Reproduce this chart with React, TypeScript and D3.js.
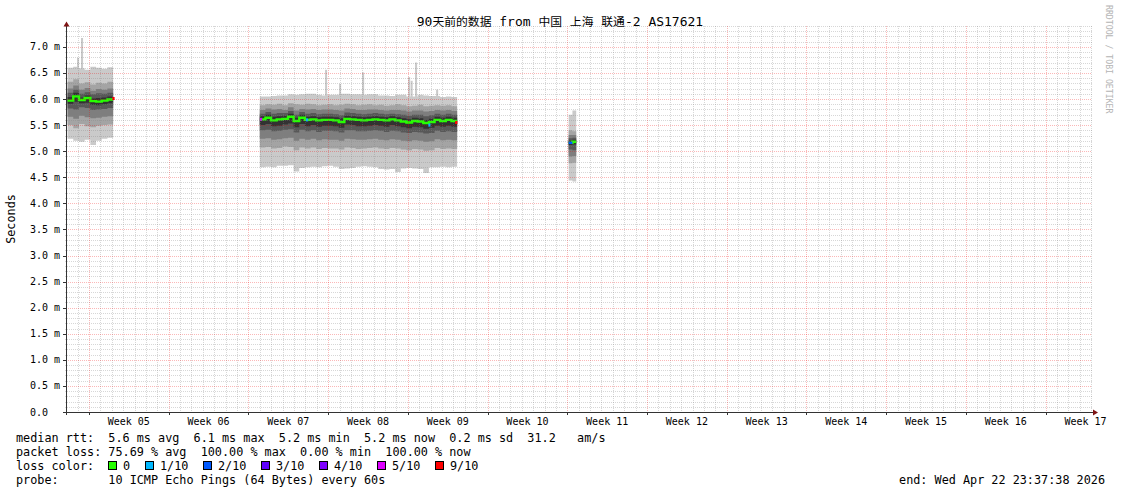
import React from "react";
import * as d3 from "d3";

// ---------- text ----------
const TITLE = "90天前的数据 from 中国 上海 联通-2 AS17621";
const Y_TITLE = "Seconds";
const WATERMARK = "RRDTOOL / TOBI OETIKER";
const legendRows = [
  "median rtt:  5.6 ms avg  6.1 ms max  5.2 ms min  5.2 ms now  0.2 ms sd  31.2   am/s",
  "packet loss: 75.69 % avg  100.00 % max  0.00 % min  100.00 % now",
];
const lossRowLabel = "loss color:";
const probeRow = "probe:       10 ICMP Echo Pings (64 Bytes) every 60s";
const endRow = "end: Wed Apr 22 23:37:38 2026";

// ---------- axes ----------
const RANGE_DAYS = 90;
const Y_MAX = 7.4;
const yTickValues = [0, 0.5, 1, 1.5, 2, 2.5, 3, 3.5, 4, 4.5, 5, 5.5, 6, 6.5, 7];
const yTickLabels = ["0.0", "0.5 m", "1.0 m", "1.5 m", "2.0 m", "2.5 m", "3.0 m", "3.5 m", "4.0 m", "4.5 m", "5.0 m", "5.5 m", "6.0 m", "6.5 m", "7.0 m"];
const firstWeekDay = 1.93; // days after graph start of first week boundary
const weekLabels = ["Week 05", "Week 06", "Week 07", "Week 08", "Week 09", "Week 10", "Week 11", "Week 12", "Week 13", "Week 14", "Week 15", "Week 16", "Week 17"];

// ---------- loss colours ----------
const lossLegend = [
  { label: "0", loss: 0 },
  { label: "1/10", loss: 1 },
  { label: "2/10", loss: 2 },
  { label: "3/10", loss: 3 },
  { label: "4/10", loss: 4 },
  { label: "5/10", loss: 5 },
  { label: "9/10", loss: 9 },
];
const lossColors: Record<number, string> = {
  0: "#26ff00", 1: "#00b8ff", 2: "#0059ff", 3: "#5e00ff", 4: "#7e00ff", 5: "#dd00ff", 9: "#ff0000",
};
const smokeShades = ["#cacaca", "#a4a4a4", "#7e7e7e", "#585858", "#323232"];

// ---------- segment A (days, ms) ----------
const segAStart = 0.05;
const segAStep = 0.5;
const medA = [5.97, 6.05, 5.98, 6.02, 5.96, 5.95, 5.97, 5.99];
const lossA = [0, 0, 0, 0, 0, 0, 0, 0];
const hi1A = [6.60, 6.62, 6.59, 6.56, 6.62, 6.60, 6.58, 6.61];
const hi2A = [6.33, 6.38, 6.30, 6.32, 6.28, 6.31, 6.30, 6.33];
const hi3A = [6.20, 6.26, 6.18, 6.21, 6.16, 6.19, 6.18, 6.20];
const hi4A = [6.12, 6.18, 6.10, 6.13, 6.09, 6.11, 6.10, 6.12];
const hi5A = [6.04, 6.12, 6.03, 6.07, 6.01, 6.02, 6.03, 6.05];
const lo5A = [5.91, 5.95, 5.92, 5.93, 5.89, 5.88, 5.90, 5.92];
const lo4A = [5.82, 5.80, 5.84, 5.83, 5.79, 5.80, 5.81, 5.83];
const lo3A = [5.66, 5.62, 5.68, 5.65, 5.63, 5.64, 5.66, 5.67];
const lo2A = [5.50, 5.44, 5.52, 5.48, 5.46, 5.49, 5.50, 5.51];
const lo1A = [5.24, 5.20, 5.18, 5.22, 5.12, 5.20, 5.24, 5.26];

// ---------- segment B ----------
const segBStart = 16.93;
const segBStep = 0.495;
const medB = [5.61, 5.64, 5.59, 5.61, 5.62, 5.66, 5.58, 5.64, 5.60, 5.61, 5.59, 5.60, 5.60, 5.59, 5.56, 5.62, 5.61, 5.60, 5.59, 5.60, 5.61, 5.60, 5.59, 5.61, 5.59, 5.57, 5.55, 5.58, 5.57, 5.54, 5.56, 5.60, 5.58, 5.60, 5.58];
const lossB = medB.map(() => 0);
const hi1B = [6.05, 6.05, 6.06, 6.07, 6.07, 6.09, 6.08, 6.09, 6.10, 6.10, 6.08, 6.07, 6.08, 6.08, 6.10, 6.10, 6.09, 6.09, 6.08, 6.09, 6.09, 6.07, 6.07, 6.06, 6.08, 6.08, 6.05, 6.05, 6.08, 6.07, 6.06, 6.06, 6.04, 6.05, 6.04];
const hi2B = [5.88, 5.90, 5.89, 5.91, 5.88, 5.92, 5.90, 5.89, 5.91, 5.90, 5.88, 5.89, 5.90, 5.88, 5.89, 5.91, 5.90, 5.88, 5.89, 5.90, 5.88, 5.89, 5.87, 5.88, 5.90, 5.88, 5.86, 5.87, 5.89, 5.86, 5.87, 5.88, 5.87, 5.88, 5.86];
const hi3B = [5.79, 5.82, 5.80, 5.81, 5.79, 5.84, 5.78, 5.81, 5.80, 5.81, 5.79, 5.80, 5.80, 5.79, 5.78, 5.82, 5.81, 5.79, 5.79, 5.80, 5.80, 5.79, 5.78, 5.79, 5.79, 5.78, 5.76, 5.78, 5.78, 5.76, 5.77, 5.79, 5.78, 5.79, 5.77];
const hi4B = [5.72, 5.75, 5.72, 5.73, 5.73, 5.77, 5.70, 5.75, 5.72, 5.73, 5.71, 5.72, 5.72, 5.71, 5.69, 5.74, 5.73, 5.72, 5.71, 5.72, 5.73, 5.72, 5.71, 5.72, 5.71, 5.70, 5.68, 5.70, 5.70, 5.67, 5.69, 5.72, 5.70, 5.72, 5.70];
const hi5B = [5.67, 5.70, 5.66, 5.67, 5.68, 5.72, 5.64, 5.70, 5.66, 5.67, 5.65, 5.66, 5.66, 5.65, 5.63, 5.68, 5.67, 5.66, 5.65, 5.66, 5.67, 5.66, 5.65, 5.67, 5.65, 5.63, 5.61, 5.64, 5.63, 5.60, 5.62, 5.66, 5.64, 5.66, 5.64];
const lo5B = [5.50, 5.52, 5.48, 5.49, 5.51, 5.53, 5.46, 5.52, 5.48, 5.50, 5.47, 5.49, 5.49, 5.48, 5.45, 5.51, 5.50, 5.48, 5.48, 5.49, 5.50, 5.49, 5.47, 5.50, 5.48, 5.46, 5.44, 5.47, 5.46, 5.43, 5.45, 5.49, 5.47, 5.49, 5.47];
const lo4B = [5.40, 5.41, 5.38, 5.39, 5.41, 5.42, 5.36, 5.41, 5.38, 5.40, 5.37, 5.39, 5.39, 5.38, 5.36, 5.40, 5.40, 5.38, 5.38, 5.39, 5.40, 5.39, 5.37, 5.39, 5.38, 5.36, 5.35, 5.37, 5.36, 5.34, 5.35, 5.39, 5.37, 5.38, 5.37];
const lo3B = [5.24, 5.25, 5.22, 5.23, 5.25, 5.26, 5.20, 5.24, 5.22, 5.24, 5.21, 5.23, 5.22, 5.22, 5.20, 5.24, 5.23, 5.22, 5.22, 5.23, 5.24, 5.22, 5.21, 5.23, 5.22, 5.20, 5.19, 5.21, 5.20, 5.18, 5.19, 5.23, 5.21, 5.22, 5.21];
const lo2B = [5.07, 5.08, 5.05, 5.06, 5.09, 5.08, 5.02, 5.07, 5.05, 5.07, 5.04, 5.06, 5.05, 5.05, 5.03, 5.07, 5.06, 5.04, 5.05, 5.06, 5.07, 5.05, 5.04, 5.06, 5.05, 5.03, 5.02, 5.04, 5.03, 5.01, 5.02, 5.06, 5.04, 5.05, 5.04];
const lo1B = [4.69, 4.70, 4.69, 4.72, 4.72, 4.73, 4.61, 4.68, 4.69, 4.70, 4.69, 4.71, 4.72, 4.70, 4.66, 4.67, 4.68, 4.70, 4.71, 4.70, 4.69, 4.66, 4.65, 4.66, 4.60, 4.67, 4.68, 4.67, 4.66, 4.58, 4.69, 4.69, 4.70, 4.69, 4.70];

// ---------- segment C ----------
const segCStart = 44.05;
const segCStep = 0.33;
const medC = [5.16, 5.18];
const lossC = [2, 0];
const hi1C = [5.70, 5.78];
const hi2C = [5.40, 5.38];
const hi3C = [5.31, 5.31];
const hi4C = [5.25, 5.26];
const hi5C = [5.20, 5.22];
const lo5C = [5.12, 5.13];
const lo4C = [5.03, 5.02];
const lo3C = [4.90, 4.91];
const lo2C = [4.77, 4.78];
const lo1C = [4.44, 4.42];

// ---------- single-sample outliers (max ping) ----------
const spikeDays = [0.88, 1.23, 22.66, 23.89, 25.91, 29.95, 30.17, 30.56, 32.41];
const spikeValues = [6.79, 7.17, 6.56, 6.29, 6.51, 6.42, 6.35, 6.70, 6.18];
const spikeBase = 5.8;

// ---------- short lossy samples on the median ----------
const lossMarkDays = [3.98, 16.93, 20.98, 31.72, 34.08];
const lossMarkValues = [6.01, 5.61, 5.60, 5.50, 5.55];
const lossMarkLoss = [9, 5, 1, 1, 9];

const segments = [
  { start: segAStart, step: segAStep, med: medA, loss: lossA, bands: [[lo1A, hi1A], [lo2A, hi2A], [lo3A, hi3A], [lo4A, hi4A], [lo5A, hi5A]] },
  { start: segBStart, step: segBStep, med: medB, loss: lossB, bands: [[lo1B, hi1B], [lo2B, hi2B], [lo3B, hi3B], [lo4B, hi4B], [lo5B, hi5B]] },
  { start: segCStart, step: segCStep, med: medC, loss: lossC, bands: [[lo1C, hi1C], [lo2C, hi2C], [lo3C, hi3C], [lo4C, hi4C], [lo5C, hi5C]] },
];

const MONO = "'DejaVu Sans Mono', monospace";
const CJK = "'Noto Sans CJK SC', 'DejaVu Sans Mono', sans-serif";

export default function App() {
  const W = 1121;
  const H = 494;
  const x = d3.scaleLinear().domain([0, RANGE_DAYS]).range([67, 1092]);
  const y = d3.scaleLinear().domain([0, Y_MAX]).range([412, 26]);
  const px0 = x(0);
  const px1 = x(RANGE_DAYS);
  const pyTop = y(Y_MAX);
  const pyBot = y(0);

  const minorY = d3.range(1, Math.round(Y_MAX * 10) + 1).filter((i) => i % 5 !== 0).map((i) => i / 10);
  const majorY = yTickValues.filter((v) => v > 0);
  const dayLines: number[] = [];
  const weekLines: number[] = [];
  for (let j = -1; firstWeekDay + j < RANGE_DAYS; j++) {
    const d = firstWeekDay + j;
    if (d <= 0) continue;
    if (((j % 7) + 7) % 7 === 0) weekLines.push(d);
    else dayLines.push(d);
  }

  const titleRuns = TITLE.match(/[\u3400-\u9fff]+|[^\u3400-\u9fff]+/g) || [];

  const swatchPos: { sx: number; lx: number }[] = [];
  {
    let sx = 108;
    for (const item of lossLegend) {
      const lx = sx + 15;
      swatchPos.push({ sx, lx });
      sx = lx + item.label.length * 7 + 15;
    }
  }

  const minorStroke = "rgba(130,130,130,0.32)";
  const majorStroke = "rgba(240,0,0,0.28)";

  return (
    <svg width={W} height={H} style={{ position: "absolute", left: 0, top: 0, background: "#fff" }}>
      <rect x={0} y={0} width={W} height={H} fill="#fff" />

      {spikeDays.map((d, i) => (
        <rect key={"sp" + i} x={x(d)} y={y(spikeValues[i])} width={x(d + 0.18) - x(d)} height={y(spikeBase) - y(spikeValues[i])} fill={smokeShades[0]} />
      ))}

      {segments.map((seg, si) => {
        const n = seg.med.length;
        const idx = d3.range(n + 1);
        return (
          <g key={"seg" + si}>
            {seg.bands.map(([lo, hi], bi) => {
              const area = d3
                .area<number>()
                .x((k) => x(seg.start + k * seg.step))
                .y0((k) => y(lo[Math.min(k, n - 1)]))
                .y1((k) => y(hi[Math.min(k, n - 1)]))
                .curve(d3.curveStepAfter);
              return <path key={bi} d={area(idx) || ""} fill={smokeShades[bi]} />;
            })}
          </g>
        );
      })}

      {segments.map((seg, si) => {
        const n = seg.med.length;
        const idx = d3.range(n + 1);
        const line = d3
          .line<number>()
          .x((k) => x(seg.start + k * seg.step))
          .y((k) => y(seg.med[Math.min(k, n - 1)]))
          .curve(d3.curveStepAfter);
        return (
          <g key={"med" + si}>
            <path d={line(idx) || ""} fill="none" stroke={lossColors[0]} strokeWidth={2.4} />
            {seg.loss.map((l, k) =>
              l > 0 ? (
                <line key={k} x1={x(seg.start + k * seg.step)} x2={x(seg.start + (k + 1) * seg.step)} y1={y(seg.med[k])} y2={y(seg.med[k])} stroke={lossColors[l]} strokeWidth={2.4} />
              ) : null
            )}
          </g>
        );
      })}
      {lossMarkDays.map((d, i) => (
        <rect key={"lm" + i} x={x(d)} y={y(lossMarkValues[i]) - 1.5} width={x(d + 0.2) - x(d)} height={3} fill={lossColors[lossMarkLoss[i]]} />
      ))}

      <g shapeRendering="crispEdges">
        {minorY.map((v) => (
          <line key={"my" + v} x1={px0 - 2} x2={px1} y1={Math.round(y(v)) + 0.5} y2={Math.round(y(v)) + 0.5} stroke={minorStroke} strokeDasharray="1,1" />
        ))}
        {dayLines.map((d) => (
          <line key={"dx" + d} x1={Math.round(x(d)) + 0.5} x2={Math.round(x(d)) + 0.5} y1={pyTop} y2={pyBot + 2} stroke={minorStroke} strokeDasharray="1,1" />
        ))}
        {majorY.map((v) => (
          <line key={"My" + v} x1={px0 - 3} x2={px1} y1={Math.round(y(v)) + 0.5} y2={Math.round(y(v)) + 0.5} stroke={majorStroke} strokeDasharray="1,1" />
        ))}
        {weekLines.map((d) => (
          <line key={"wx" + d} x1={Math.round(x(d)) + 0.5} x2={Math.round(x(d)) + 0.5} y1={pyTop} y2={pyBot + 3} stroke={majorStroke} strokeDasharray="1,1" />
        ))}
        {majorY.map((v) => (
          <line key={"ty" + v} x1={px0 - 4} x2={px0} y1={Math.round(y(v)) + 0.5} y2={Math.round(y(v)) + 0.5} stroke="#333" />
        ))}
        {weekLines.map((d) => (
          <line key={"tx" + d} x1={Math.round(x(d)) + 0.5} x2={Math.round(x(d)) + 0.5} y1={pyBot} y2={pyBot + 3} stroke="#333" />
        ))}
        <line x1={px0 - 0.5} x2={px0 - 0.5} y1={pyBot + 3} y2={pyTop - 2} stroke="#333" />
        <line x1={px0 - 4} x2={px1 + 1} y1={pyBot + 0.5} y2={pyBot + 0.5} stroke="#333" />
      </g>
      <path d={`M${px0 - 3.5},${pyTop + 0.5} L${px0 + 2.5},${pyTop + 0.5} L${px0 - 0.5},${pyTop - 4.5} Z`} fill="#7f1414" />
      <path d={`M${px1 + 1},${pyBot - 2.5} L${px1 + 1},${pyBot + 3.5} L${px1 + 6},${pyBot + 0.5} Z`} fill="#7f1414" />

      <text x={560} y={26} textAnchor="middle" fontFamily={MONO} fontSize={13} fill="#000" style={{ whiteSpace: "pre" }}>
        {titleRuns.map((r, i) =>
          /[\u3400-\u9fff]/.test(r) ? (
            <tspan key={i} fontFamily={CJK} fontSize={11.8}>{r}</tspan>
          ) : (
            <tspan key={i}>{r}</tspan>
          )
        )}
      </text>

      {yTickValues.map((v, i) => (
        <text key={"yl" + v} x={30} y={y(v) + 3.5} fontFamily={MONO} fontSize={10} fill="#000" style={{ whiteSpace: "pre" }}>
          {yTickLabels[i]}
        </text>
      ))}
      <text transform={`translate(15,219) rotate(-90)`} textAnchor="middle" fontFamily={MONO} fontSize={11.8} fill="#000">
        {Y_TITLE}
      </text>

      {weekLabels.map((lab, i) => (
        <text key={lab} x={x(firstWeekDay + 7 * i + 3.5)} y={425} textAnchor="middle" fontFamily={MONO} fontSize={10} fill="#000">
          {lab}
        </text>
      ))}

      <text transform={`translate(1106,5) rotate(90)`} fontFamily={MONO} fontSize={8.2} fill="#b4b4b4">
        {WATERMARK}
      </text>

      {legendRows.map((row, i) => (
        <text key={"lg" + i} x={16} y={442 + i * 14} fontFamily={MONO} fontSize={11.8} fill="#000" style={{ whiteSpace: "pre" }}>
          {row}
        </text>
      ))}
      <text x={16} y={470} fontFamily={MONO} fontSize={11.8} fill="#000">{lossRowLabel}</text>
      {lossLegend.map((item, i) => (
        <g key={"ll" + i}>
          <rect x={swatchPos[i].sx + 0.5} y={461.5} width={8} height={8} fill={lossColors[item.loss]} stroke="#000" strokeWidth={1} />
          <text x={swatchPos[i].lx} y={470} fontFamily={MONO} fontSize={11.8} fill="#000">{item.label}</text>
        </g>
      ))}
      <text x={16} y={484} fontFamily={MONO} fontSize={11.8} fill="#000" style={{ whiteSpace: "pre" }}>{probeRow}</text>
      <text x={1105} y={484} textAnchor="end" fontFamily={MONO} fontSize={11.8} fill="#000" style={{ whiteSpace: "pre" }}>{endRow}</text>
    </svg>
  );
}
